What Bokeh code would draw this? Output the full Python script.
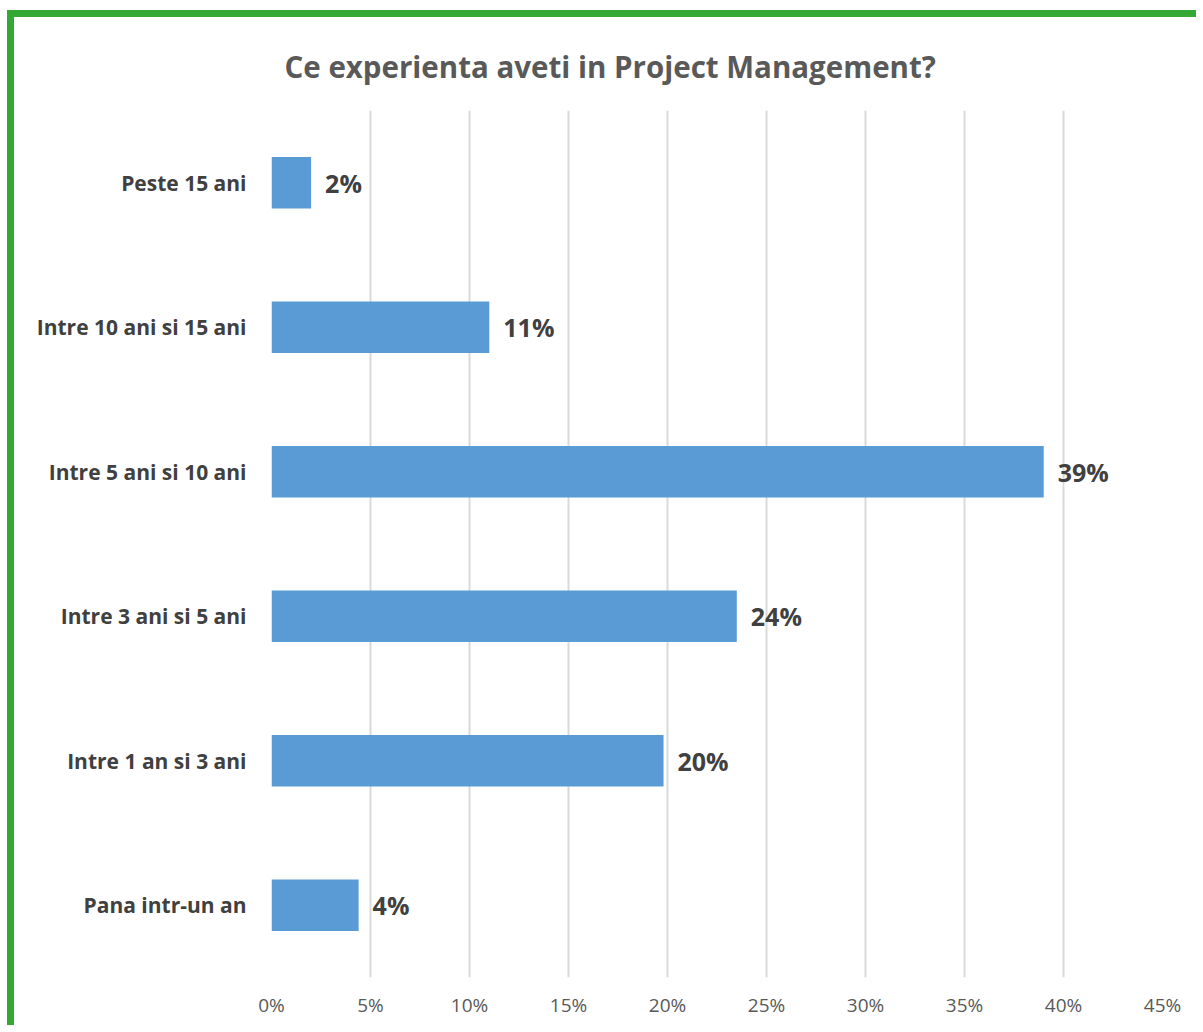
from bokeh.plotting import figure
from bokeh.models import (Range1d, FactorRange, LabelSet, ColumnDataSource, FixedTicker,
                          CustomJSTickFormatter, Title)
from bokeh.core.properties import value
from bokeh.embed import file_html
from bokeh.resources import INLINE

categories = ["Pana intr-un an", "Intre 1 an si 3 ani", "Intre 3 ani si 5 ani",
              "Intre 5 ani si 10 ani", "Intre 10 ani si 15 ani", "Peste 15 ani"]
values = [0.044, 0.198, 0.235, 0.39, 0.11, 0.02]
labels = ["4%", "20%", "24%", "39%", "11%", "2%"]
ticks = [0, 0.05, 0.10, 0.15, 0.20, 0.25, 0.30, 0.35, 0.40, 0.45]
title_text = "Ce experienta aveti in Project Management?"

FONT = "Open Sans"
W, H = 1189, 1015

p = figure(width=W, height=H, y_range=FactorRange(*categories, range_padding=0),
           x_range=Range1d(0, 0.45), output_backend="svg", toolbar_location=None,
           min_border_left=257, min_border_right=41, min_border_top=93, min_border_bottom=55,
           title=Title(text=title_text, align="left", offset=13, standoff=48,
                       text_font=FONT, text_font_style="bold", text_font_size="29.5px",
                       text_color="#595959"))
p.styles = {"border-left": "7px solid #33a833", "border-top": "7px solid #33a833",
            "margin-left": "7px", "margin-top": "10px"}

src = ColumnDataSource(dict(cat=categories, val=values, lab=labels))
p.hbar(y="cat", right="val", left=0, height=0.355, source=src, color="#5b9bd5", line_color=None)

p.add_layout(LabelSet(x="val", y="cat", text="lab", source=src, x_offset=14,
                      text_baseline="middle", text_font=value(FONT), text_font_style="bold",
                      text_font_size="25px", text_color="#404040"))

p.xaxis.ticker = FixedTicker(ticks=ticks)
p.xaxis.formatter = CustomJSTickFormatter(code="return Math.round(tick*100) + '%';")
p.xaxis.axis_line_color = None
p.xaxis.major_tick_line_color = None
p.xaxis.minor_tick_line_color = None
p.xaxis.major_label_standoff = 8
p.xaxis.major_label_text_font = FONT
p.xaxis.major_label_text_font_size = "19px"
p.xaxis.major_label_text_color = "#595959"

p.yaxis.axis_line_color = None
p.yaxis.major_tick_line_color = None
p.yaxis.minor_tick_line_color = None
p.yaxis.major_label_standoff = 19
p.yaxis.major_label_text_font = FONT
p.yaxis.major_label_text_font_style = "bold"
p.yaxis.major_label_text_font_size = "21px"
p.yaxis.major_label_text_color = "#404040"

p.xgrid.grid_line_color = "#d9d9d9"
p.xgrid.grid_line_width = 2
p.ygrid.grid_line_color = None
p.outline_line_color = None
p.background_fill_color = "white"
p.border_fill_color = "white"

open("out.html", "w").write(file_html(p, INLINE))
